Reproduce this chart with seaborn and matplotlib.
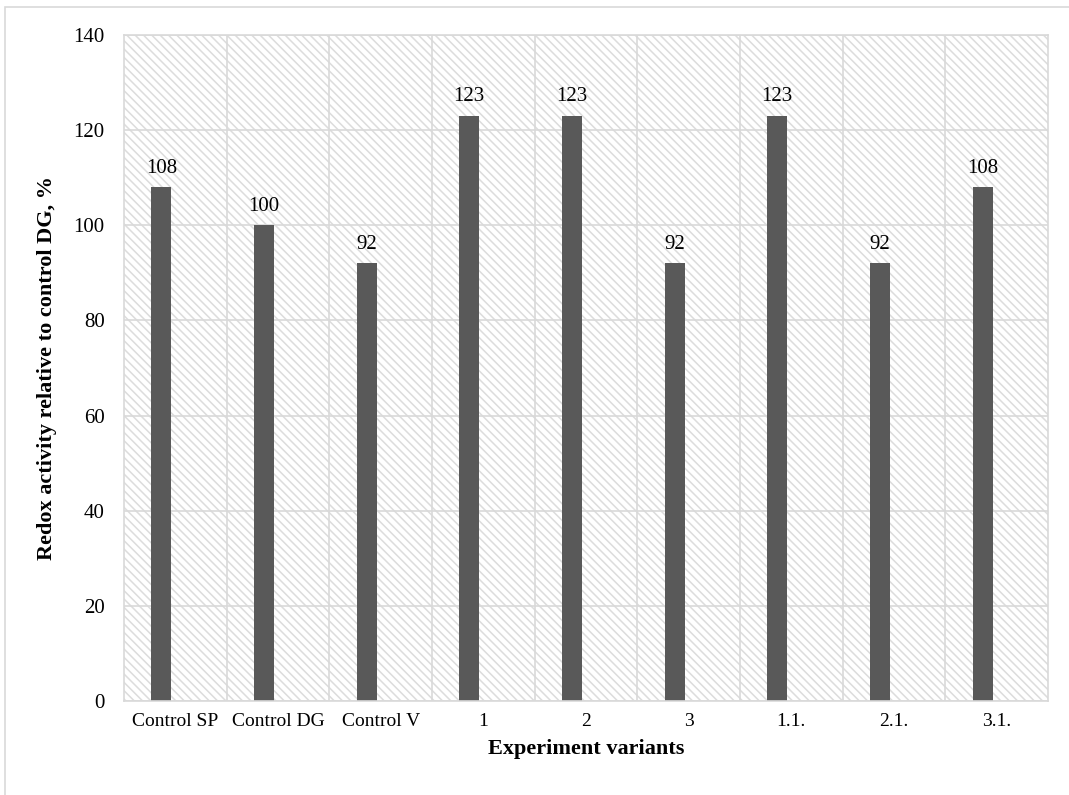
import matplotlib
matplotlib.use("Agg")
import matplotlib.pyplot as plt
import seaborn as sns
import pandas as pd
from matplotlib.patches import Rectangle

# dados
variantes = ['Control SP', 'Control DG', 'Control V', '1', '2', '3', '1.1.', '2.1.', '3.1.']
atividade = [108, 100, 92, 123, 123, 92, 123, 92, 108]
ticks_y = [0, 20, 40, 60, 80, 100, 120, 140]

df = pd.DataFrame({'Variante': variantes, 'Atividade': atividade})

sns.set_theme(style="white")
plt.rcParams['font.family'] = ['Liberation Serif', 'DejaVu Serif']
plt.rcParams['hatch.linewidth'] = 1.1
for k in ['text.color', 'axes.labelcolor', 'xtick.color', 'ytick.color']:
    plt.rcParams[k] = 'black'

cinza_grade = '#d9d9d9'

fig = plt.figure(figsize=(10.69, 7.95), dpi=100)
ax = fig.add_axes([124/1069, 1 - 701/795, 924/1069, 666/795])

# fundo hachurado
fundo = Rectangle((0, 0), 1, 1, transform=ax.transAxes, facecolor='white',
                  edgecolor='#dcdcdc', linewidth=0, hatch='\\\\\\\\', zorder=0.1)
ax.add_patch(fundo)

sns.barplot(data=df, x='Variante', y='Atividade', color='#595959', width=0.195,
            saturation=1, ax=ax, zorder=2)

# barras deslocadas para a esquerda (como no Excel)
for p in ax.patches:
    if p is fundo:
        continue
    p.set_x(p.get_x() - 0.137)
    p.set_edgecolor('none')

for c in ax.containers:
    ax.bar_label(c, fmt='%d', padding=7, fontsize=15, color='black')

ax.set_xlim(-0.5, len(variantes) - 0.5)
ax.set_ylim(0, 140)
ax.set_yticks(ticks_y)

# grade
ax.set_axisbelow(True)
ax.set_xticks([i + 0.5 for i in range(len(variantes) - 1)], minor=True)
ax.grid(axis='y', which='major', color=cinza_grade, linewidth=1.2, zorder=0.5)
ax.grid(axis='x', which='minor', color=cinza_grade, linewidth=1.2, zorder=0.5)
ax.grid(axis='x', which='major', visible=False)

for s in ax.spines.values():
    s.set_color(cinza_grade)
    s.set_linewidth(1.2)

ax.tick_params(axis='x', which='both', length=0, pad=9, labelsize=14)
ax.tick_params(axis='y', length=0, pad=14, labelsize=15)

ax.set_xlabel('Experiment variants', fontsize=16, fontweight='bold', labelpad=6)
ax.set_ylabel('Redox activity relative to control DG, %', fontsize=16,
              fontweight='bold', labelpad=12)

# borda da figura
borda = Rectangle((5/1069, -0.05), 1.2, 1 - 7/795 + 0.05, transform=fig.transFigure,
                  facecolor='none', edgecolor=cinza_grade, linewidth=1.2, clip_on=False)
fig.patches.append(borda)

fig.savefig('out.png', dpi=100)
